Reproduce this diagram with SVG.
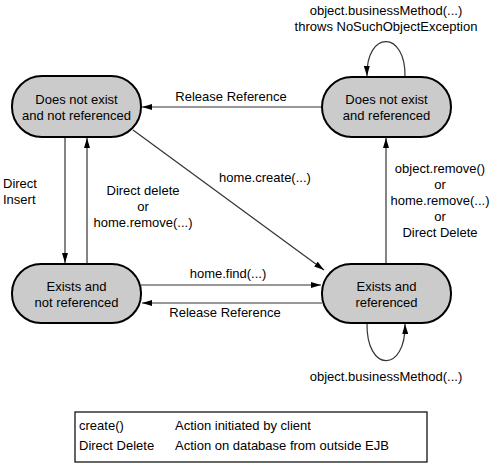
<svg xmlns="http://www.w3.org/2000/svg" width="500" height="470" viewBox="0 0 500 470">
<style>
.n{fill:#cbcbcb;stroke:#000;stroke-width:2}
.t{font-family:"Liberation Sans",Arial,sans-serif;font-size:13px;fill:#000;text-anchor:middle}
.l{font-family:"Liberation Sans",Arial,sans-serif;font-size:13px;fill:#000}
.c{fill:none;stroke:#333;stroke-width:1.2;marker-end:url(#a)}
</style>
<defs>
<marker id="a" viewBox="0 0 10 6" refX="10" refY="3" markerWidth="10" markerHeight="6" markerUnits="userSpaceOnUse" orient="auto">
<path d="M0,0 L10,3 L0,6 Z" fill="#000"/>
</marker>
</defs>
<rect width="500" height="470" fill="#fff"/>
<g id="connectors">
<line class="c" x1="322" y1="107" x2="142" y2="107"/>
<line class="c" x1="65" y1="137" x2="65" y2="263"/>
<line class="c" x1="87" y1="264" x2="87" y2="138"/>
<line class="c" x1="133" y1="130" x2="324" y2="270"/>
<line class="c" x1="141" y1="285" x2="321" y2="285"/>
<line class="c" x1="322" y1="303" x2="142" y2="303"/>
<line class="c" x1="386" y1="264" x2="386" y2="138"/>
<path class="c" d="M405,77 C406,30 366,30 367,76"/>
<path class="c" d="M367,323 C366,373 406,373 405,324"/>
<text class="t" x="231" y="101">Release Reference</text>
<text class="l" x="3" y="188">Direct</text>
<text class="l" x="3" y="204">Insert</text>
<text class="t" x="143" y="195">Direct delete</text>
<text class="t" x="143" y="211">or</text>
<text class="t" x="143" y="227">home.remove(...)</text>
<text class="t" x="265" y="182">home.create(...)</text>
<text class="t" x="228" y="278">home.find(...)</text>
<text class="t" x="225" y="317">Release Reference</text>
<text class="t" x="440" y="173">object.remove()</text>
<text class="t" x="440" y="189">or</text>
<text class="t" x="440" y="205">home.remove(...)</text>
<text class="t" x="440" y="221">or</text>
<text class="t" x="440" y="237">Direct Delete</text>
<text class="t" x="386" y="15">object.businessMethod(...)</text>
<text class="t" x="386" y="31">throws NoSuchObjectException</text>
<text class="t" x="386" y="381">object.businessMethod(...)</text>
</g>
<g id="n1">
<rect class="n" x="12" y="76" width="129" height="61" rx="30"/>
<text class="t" x="76.5" y="104">Does not exist</text>
<text class="t" x="76.5" y="120">and not referenced</text>
</g>
<g id="n2">
<rect class="n" x="322" y="77" width="129" height="60" rx="30"/>
<text class="t" x="386.5" y="104">Does not exist</text>
<text class="t" x="386.5" y="120">and referenced</text>
</g>
<g id="n3">
<rect class="n" x="12" y="264" width="129" height="59" rx="29"/>
<text class="t" x="76.5" y="291">Exists and</text>
<text class="t" x="76.5" y="307">not referenced</text>
</g>
<g id="n4">
<rect class="n" x="322" y="264" width="129" height="59" rx="29"/>
<text class="t" x="386.5" y="291">Exists and</text>
<text class="t" x="386.5" y="307">referenced</text>
</g>
<g id="legend">
<rect x="75" y="412" width="352" height="50" fill="none" stroke="#000" stroke-width="1.2"/>
<text class="l" x="79" y="430">create()</text>
<text class="l" x="175" y="430">Action initiated by client</text>
<text class="l" x="79" y="450">Direct Delete</text>
<text class="l" x="175" y="450">Action on database from outside EJB</text>
</g>
</svg>
